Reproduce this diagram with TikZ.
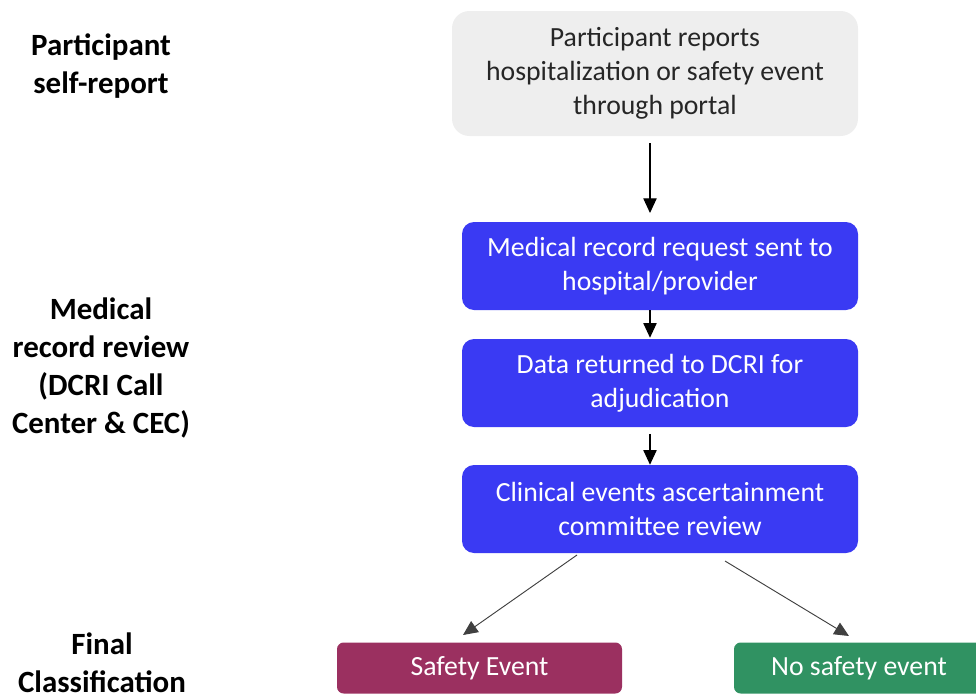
\documentclass[tikz,border=0pt]{standalone}
\usepackage{fontspec}
\setmainfont{Carlito}
\usetikzlibrary{arrows.meta}
\definecolor{boxgray}{RGB}{238,238,238}
\definecolor{boxblue}{RGB}{58,58,243}
\definecolor{safetyred}{RGB}{155,48,96}
\definecolor{nogreen}{RGB}{48,146,98}
\begin{document}
\begin{tikzpicture}[x=0.75pt,y=-0.75pt,
  txt/.style={font=\fontsize{20.8pt}{25.5pt}\selectfont, align=center, inner sep=0pt},
  grayb/.style={txt, fill=boxgray, text=black!85, rounded corners=13pt, minimum width=304.5pt, minimum height=93.75pt},
  blueb/.style={txt, fill=boxblue, text=white, rounded corners=9pt, minimum width=297pt, minimum height=66pt},
  classb/.style={txt, text=white, rounded corners=5pt, minimum height=38.25pt},
  side/.style={font=\fontsize{23.2pt}{28.5pt}\selectfont\bfseries, align=center, inner sep=0pt},
  arr/.style={-{Triangle[length=11pt,width=10pt]}, line width=0.8pt, black},
  darr/.style={-{Triangle[length=11pt,width=10pt]}, line width=0.7pt, black!75}
]
\useasboundingbox (0,0) rectangle (976,700);
\clip (0,0) rectangle (976,700);

\node[side] (l1) at (101,66) {Participant\\self-report};
\node[side] (l2) at (101,368) {Medical\\record review\\(DCRI Call\\Center \& CEC)};
\node[side] (l3) at (102,663) {Final\\Classification};

\node[grayb] (g) at (655,73.5) {Participant reports\\hospitalization or safety event\\through portal};
\node[blueb] (b1) at (660,266) {Medical record request sent to\\hospital/provider};
\node[blueb] (b2) at (660,383) {Data returned to DCRI for\\adjudication};
\node[blueb] (b3) at (660,509) {Clinical events ascertainment\\committee review};
\node[classb, fill=safetyred, minimum width=213.75pt] (se) at (479.5,668) {Safety Event};
\node[classb, fill=nogreen, minimum width=187.5pt] (ns) at (859,668) {No safety event};

\coordinate (a1s) at (650,143);
\coordinate (a1e) at (650,213);
\draw[arr] (a1s) -- (a1e);
\draw[arr] (b1.south -| a1s) -- ([yshift=0.75pt]b2.north -| a1s);
\draw[arr] ([yshift=-5pt]b2.south -| a1s) -- (b3.north -| a1s);

\coordinate (d1s) at (577,555);
\coordinate (d1e) at (463,635);
\coordinate (d2s) at (725,561);
\coordinate (d2e) at (849,636);
\draw[darr] (d1s) -- (d1e);
\draw[darr] (d2s) -- (d2e);
\end{tikzpicture}
\end{document}
